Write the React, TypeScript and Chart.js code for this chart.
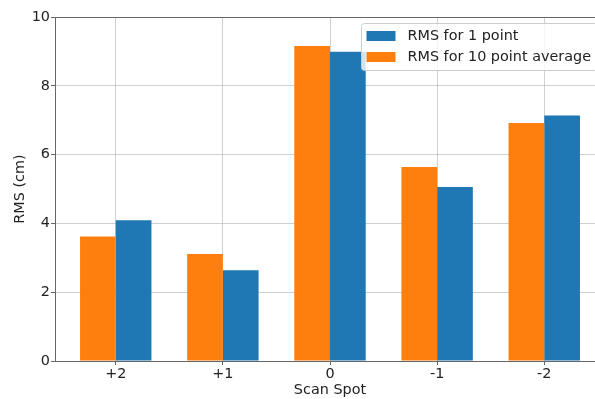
import React, { useEffect, useRef } from 'react';
import { Chart, registerables } from 'chart.js';

Chart.register(...registerables);

const categories = ['+2', '+1', '0', '-1', '-2'];
const rms1Point = [4.09, 2.64, 8.99, 5.06, 7.14];
const rms10PointAvg = [3.62, 3.11, 9.16, 5.64, 6.92];
const seriesLabels = ['RMS for 1 point', 'RMS for 10 point average'];
const yMin = 0;
const yMax = 10;
const yStep = 2;

const BLUE = '#1f77b4';
const ORANGE = '#ff7f0e';
const FONT = '"DejaVu Sans", sans-serif';
const FS = 14.4;
const TEXT = '#222222';
const GRID = 'rgba(170,170,170,0.55)';
const SPINE = '#666666';

export default function App() {
  const ref = useRef<HTMLCanvasElement>(null);

  useEffect(() => {
    const canvas = ref.current;
    if (!canvas) return;

    const mplFrame = {
      id: 'mplFrame',
      afterDraw(chart: any) {
        const { ctx, chartArea } = chart;
        ctx.save();
        // top spine
        ctx.strokeStyle = SPINE;
        ctx.lineWidth = 1;
        ctx.beginPath();
        ctx.moveTo(chartArea.left, Math.round(chartArea.top) + 0.5);
        ctx.lineTo(chartArea.right, Math.round(chartArea.top) + 0.5);
        ctx.stroke();

        // legend (matplotlib style, upper right inside axes)
        const items = [
          { label: chart.data.datasets[1].label, color: chart.data.datasets[1].backgroundColor },
          { label: chart.data.datasets[0].label, color: chart.data.datasets[0].backgroundColor },
        ];
        const bx = chartArea.right - 243.5;
        const by = chartArea.top + 6.5;
        const bw = 236;
        const bh = 47;
        ctx.beginPath();
        const r = 3;
        ctx.moveTo(bx + r, by);
        ctx.lineTo(bx + bw - r, by);
        ctx.quadraticCurveTo(bx + bw, by, bx + bw, by + r);
        ctx.lineTo(bx + bw, by + bh - r);
        ctx.quadraticCurveTo(bx + bw, by + bh, bx + bw - r, by + bh);
        ctx.lineTo(bx + r, by + bh);
        ctx.quadraticCurveTo(bx, by + bh, bx, by + bh - r);
        ctx.lineTo(bx, by + r);
        ctx.quadraticCurveTo(bx, by, bx + r, by);
        ctx.closePath();
        ctx.fillStyle = 'rgba(255,255,255,0.8)';
        ctx.fill();
        ctx.strokeStyle = '#cccccc';
        ctx.lineWidth = 1;
        ctx.stroke();

        ctx.font = `${FS}px ${FONT}`;
        ctx.textBaseline = 'middle';
        ctx.textAlign = 'left';
        items.forEach((it, i) => {
          const cy = by + 12.5 + i * 21;
          ctx.fillStyle = it.color;
          ctx.fillRect(bx + 5, cy - 5, 29, 10);
          ctx.fillStyle = TEXT;
          ctx.fillText(it.label, bx + 46, cy + 0.5);
        });
        ctx.restore();
      },
    };

    const chart = new Chart(canvas, {
      type: 'bar',
      data: {
        datasets: [
          {
            label: seriesLabels[1],
            data: rms10PointAvg.map((v, i) => ({ x: i, y: v })),
            backgroundColor: ORANGE,
            borderWidth: 0,
            categoryPercentage: 2 / 3,
            barPercentage: 1,
          },
          {
            label: seriesLabels[0],
            data: rms1Point.map((v, i) => ({ x: i, y: v })),
            backgroundColor: BLUE,
            borderWidth: 0,
            categoryPercentage: 2 / 3,
            barPercentage: 1,
          },
        ],
      },
      options: {
        animation: false,
        responsive: false,
        maintainAspectRatio: false,
        layout: { padding: { top: 17, right: 10, bottom: 0, left: 0 } },
        plugins: {
          legend: { display: false },
          tooltip: { enabled: false },
        },
        scales: {
          x: {
            type: 'linear',
            offset: false,
            min: -0.567,
            max: categories.length - 1 + 0.567,
            z: 1,
            afterBuildTicks: (scale: any) => {
              scale.ticks = categories.map((_, i) => ({ value: i }));
            },
            afterFit: (scale: any) => {
              scale.height = 38;
            },
            ticks: {
              autoSkip: false,
              maxRotation: 0,
              padding: 1,
              color: TEXT,
              font: { family: FONT, size: FS },
              callback: (v: any) => categories[Math.round(Number(v))] ?? '',
            },
            grid: {
              offset: false,
              color: GRID,
              lineWidth: 1,
              tickColor: SPINE,
              tickLength: 4,
            },
            border: { color: SPINE, width: 1 },
            title: {
              display: true,
              text: 'Scan Spot',
              color: TEXT,
              font: { family: FONT, size: FS },
              padding: { top: 0, bottom: 0 },
            },
          },
          y: {
            min: yMin,
            max: yMax,
            z: 1,
            afterFit: (scale: any) => {
              scale.width = 55;
            },
            ticks: {
              stepSize: yStep,
              padding: 1,
              color: TEXT,
              font: { family: FONT, size: FS },
            },
            grid: {
              color: GRID,
              lineWidth: 1,
              tickColor: SPINE,
              tickLength: 4,
            },
            border: { color: SPINE, width: 1 },
            title: {
              display: true,
              text: 'RMS (cm)',
              color: TEXT,
              font: { family: FONT, size: FS },
              padding: { top: 12, bottom: 0 },
            },
          },
        },
      },
      plugins: [mplFrame],
    } as any);

    return () => chart.destroy();
  }, []);

  return (
    <div
      style={{
        position: 'absolute',
        left: 0,
        top: 0,
        width: 595,
        height: 399,
        overflow: 'hidden',
        background: '#ffffff',
      }}
    >
      <canvas ref={ref} width={615} height={399} style={{ display: 'block' }} />
    </div>
  );
}
